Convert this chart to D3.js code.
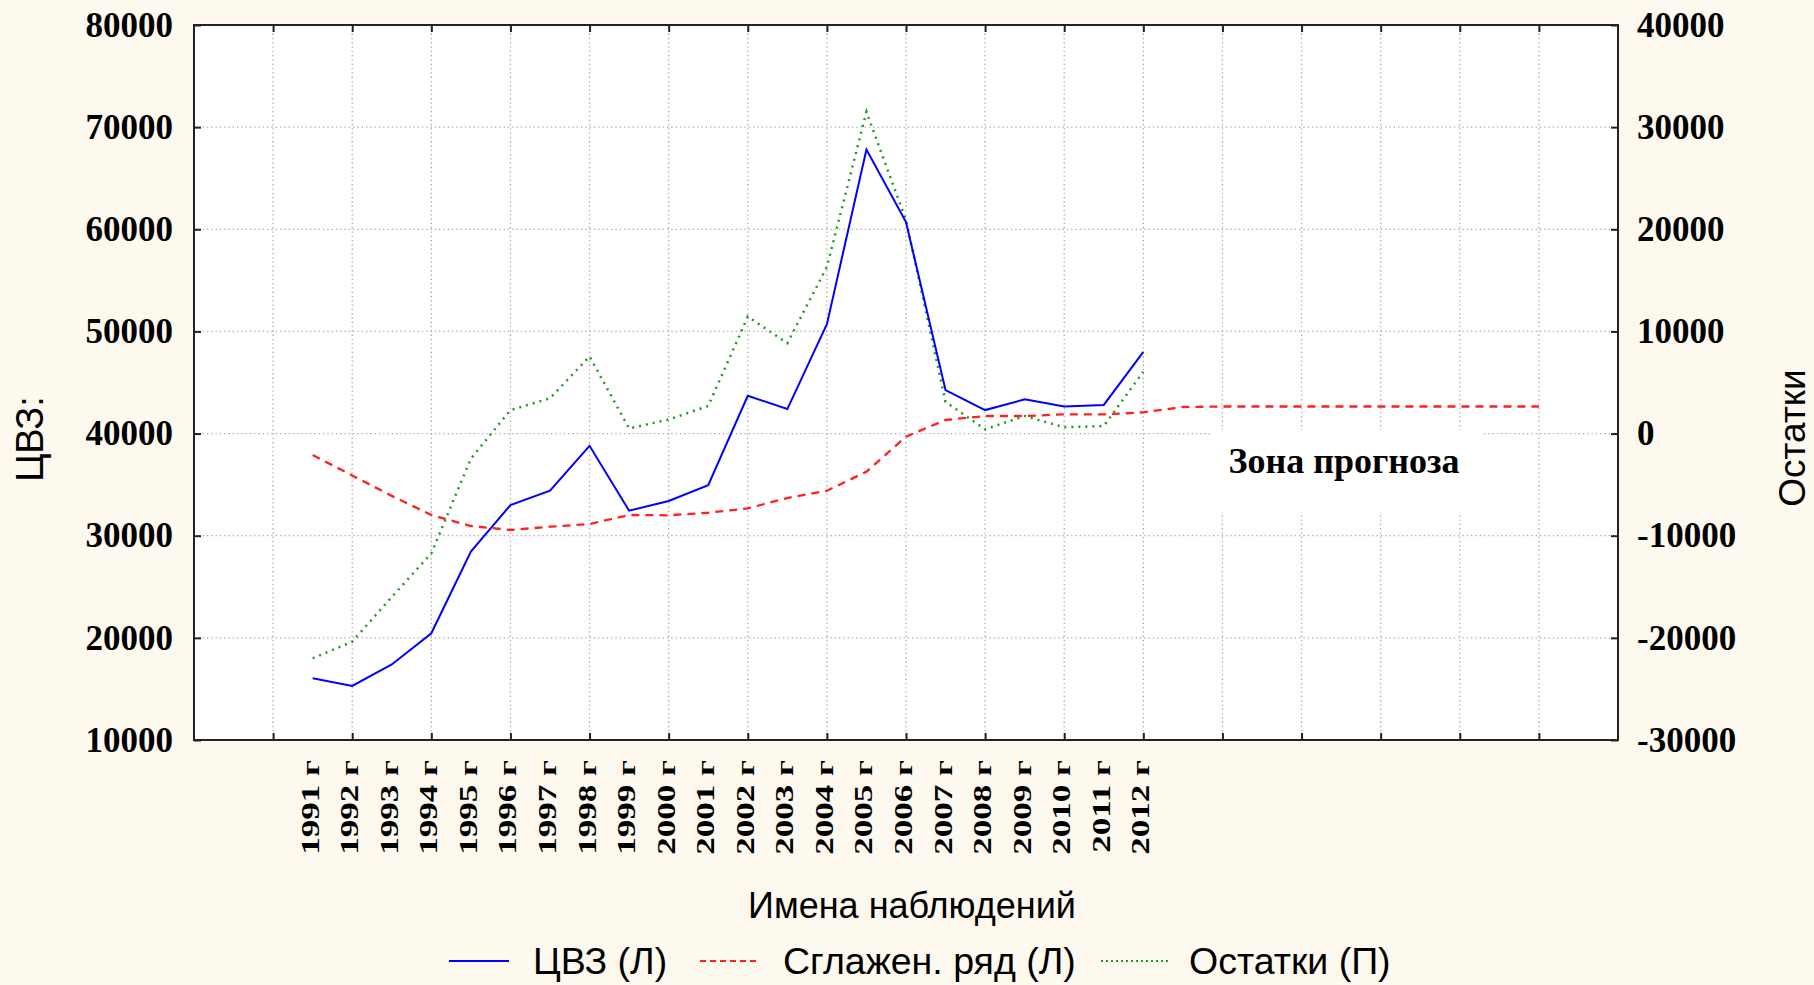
<!DOCTYPE html>
<html>
<head>
<meta charset="utf-8">
<script src="https://cdn.jsdelivr.net/npm/d3@7"></script>
<style>
  body { margin: 0; background: #fdf9ee; }
  .serif { font-family: "Liberation Serif", "Times New Roman", serif; font-weight: bold; }
  .sans { font-family: "Liberation Sans", Arial, sans-serif; }
</style>
</head>
<body>
<script>
// observation names (1991 г ... 2012 г)
var years = [1991, 1992, 1993, 1994, 1995, 1996, 1997, 1998, 1999, 2000, 2001,
             2002, 2003, 2004, 2005, 2006, 2007, 2008, 2009, 2010, 2011, 2012];
// ЦВЗ (left axis)
var cvz = [16040, 15290, 17400, 20450, 28450, 33000, 34400, 38800, 32450, 33400, 34950,
           43700, 42400, 50700, 67800, 60700, 44250, 42300, 43350, 42650, 42800, 48000];
// Остатки (right axis)
var resid = [-22000, -20380, -16000, -11720, -2450, 2300, 3450, 7550, 500, 1380, 2700,
             11450, 8850, 16300, 31500, 20900, 3100, 420, 1720, 610, 740, 6060];
// Сглажен. ряд (left axis), incl. forecast zone 2013-2022
var smoothYears = [1991, 1992, 1993, 1994, 1995, 1996, 1997, 1998, 1999, 2000, 2001,
                   2002, 2003, 2004, 2005, 2006, 2007, 2008, 2009, 2010, 2011, 2012,
                   2013, 2014, 2015, 2016, 2017, 2018, 2019, 2020, 2021, 2022];
var smooth = [37900, 35900, 33900, 32030, 30950, 30560, 30880, 31150, 32030, 32000, 32250,
              32680, 33690, 34400, 36270, 39700, 41330, 41720, 41720, 41880, 41880, 42080,
              42600, 42650, 42650, 42650, 42650, 42650, 42650, 42650, 42650, 42650];
var leftTicks = [10000, 20000, 30000, 40000, 50000, 60000, 70000, 80000];
var rightTicks = [-30000, -20000, -10000, 0, 10000, 20000, 30000, 40000];
var gridYears = [1990, 1992, 1994, 1996, 1998, 2000, 2002, 2004, 2006, 2008,
                 2010, 2012, 2014, 2016, 2018, 2020, 2022];

var width = 1814, height = 985;
var plotL = 194, plotR = 1618, plotT = 25, plotB = 740;

var svg = d3.select("body").append("svg")
    .attr("width", width)
    .attr("height", height);

var x = d3.scaleLinear().domain([1988, 2024]).range([plotL, plotR]);
var yL = d3.scaleLinear().domain([10000, 80000]).range([plotB, plotT]);
var yR = d3.scaleLinear().domain([-30000, 40000]).range([plotB, plotT]);

// plot background
svg.append("rect")
   .attr("x", plotL).attr("y", plotT)
   .attr("width", plotR - plotL).attr("height", plotB - plotT)
   .attr("fill", "#fff");

// grid
var grid = svg.append("g")
    .attr("stroke", "#a8a8a8")
    .attr("stroke-width", 1.3)
    .attr("stroke-dasharray", "1.3,3");
grid.selectAll(".gy").data(leftTicks.slice(1, -1)).enter().append("line")
    .attr("x1", plotL).attr("x2", plotR)
    .attr("y1", d => yL(d)).attr("y2", d => yL(d));
grid.selectAll(".gx").data(gridYears).enter().append("line")
    .attr("x1", d => x(d)).attr("x2", d => x(d))
    .attr("y1", plotT).attr("y2", plotB);

// box behind the forecast label
svg.append("rect")
   .attr("x", 1211).attr("y", 430)
   .attr("width", 271).attr("height", 82)
   .attr("fill", "#fff");
svg.append("text")
   .attr("class", "serif")
   .attr("x", 1344).attr("y", 473)
   .attr("text-anchor", "middle")
   .attr("font-size", 36)
   .text("Зона прогноза");

// series
var line = d3.line();
svg.append("path")
   .attr("d", line(smoothYears.map((yr, i) => [x(yr), yL(smooth[i])])))
   .attr("fill", "none")
   .attr("stroke", "#ff2020")
   .attr("stroke-width", 2.3)
   .attr("stroke-dasharray", "8,6");
svg.append("path")
   .attr("d", line(years.map((yr, i) => [x(yr), yR(resid[i])])))
   .attr("fill", "none")
   .attr("stroke", "#1f9a1f")
   .attr("stroke-width", 2.5)
   .attr("stroke-dasharray", "2,5");
svg.append("path")
   .attr("d", line(years.map((yr, i) => [x(yr), yL(cvz[i])])))
   .attr("fill", "none")
   .attr("stroke", "#0000ff")
   .attr("stroke-width", 2);

// axes
function styleAxis(g) {
  g.select(".domain").remove();
  g.selectAll(".tick line").attr("stroke", "#222").attr("stroke-width", 2);
  g.selectAll(".tick text").attr("class", "serif").attr("font-size", 35).attr("fill", "#000");
}
svg.append("g")
   .attr("transform", "translate(" + plotL + ",0)")
   .call(d3.axisLeft(yL).tickValues(leftTicks).tickSize(-7).tickPadding(21).tickFormat(d3.format("d")))
   .call(styleAxis);
svg.append("g")
   .attr("transform", "translate(" + plotR + ",0)")
   .call(d3.axisRight(yR).tickValues(rightTicks).tickSize(-7).tickPadding(19).tickFormat(d => String(d)))
   .call(styleAxis);
svg.append("g")
   .attr("transform", "translate(0," + plotB + ")")
   .call(d3.axisBottom(x).tickValues(gridYears).tickSize(-7).tickFormat(""))
   .call(styleAxis);
svg.append("g")
   .attr("transform", "translate(0," + plotT + ")")
   .call(d3.axisTop(x).tickValues(gridYears).tickSize(-7).tickFormat(""))
   .call(styleAxis);

// frame
svg.append("rect")
   .attr("x", plotL).attr("y", plotT)
   .attr("width", plotR - plotL).attr("height", plotB - plotT)
   .attr("fill", "none")
   .attr("stroke", "#222")
   .attr("stroke-width", 2);

// year labels
svg.selectAll(".yl").data(years).enter().append("text")
   .attr("class", "serif")
   .attr("font-size", 25)
   .attr("text-anchor", "end")
   .attr("dy", 6)
   .attr("transform", d => "translate(" + x(d) + ",760) rotate(-90) scale(1.4,1)")
   .text(d => d + " г");

// titles
svg.append("text")
   .attr("class", "sans")
   .attr("font-size", 36)
   .attr("text-anchor", "middle")
   .attr("x", 912).attr("y", 918)
   .text("Имена наблюдений");
svg.append("text")
   .attr("class", "sans")
   .attr("font-size", 38)
   .attr("text-anchor", "middle")
   .attr("transform", "translate(43,439) rotate(-90)")
   .text("ЦВЗ:");
svg.append("text")
   .attr("class", "sans")
   .attr("font-size", 37)
   .attr("text-anchor", "middle")
   .attr("transform", "translate(1805,438) rotate(-90)")
   .text("Остатки");

// legend
var legend = [
  {label: "ЦВЗ (Л)", color: "#0000ff", dash: null, x1: 449, x2: 509, tx: 533},
  {label: "Сглажен. ряд (Л)", color: "#ff2020", dash: "6,4", x1: 700, x2: 758, tx: 783},
  {label: "Остатки (П)", color: "#1f9a1f", dash: "2,3", x1: 1101, x2: 1168, tx: 1189}
];
var lg = svg.selectAll(".lg").data(legend).enter().append("g");
lg.append("line")
  .attr("x1", d => d.x1).attr("x2", d => d.x2)
  .attr("y1", 961).attr("y2", 961)
  .attr("stroke", d => d.color)
  .attr("stroke-width", 2)
  .attr("stroke-dasharray", d => d.dash);
lg.append("text")
  .attr("class", "sans")
  .attr("font-size", 37.5)
  .attr("x", d => d.tx).attr("y", 974)
  .text(d => d.label);
</script>
</body>
</html>
